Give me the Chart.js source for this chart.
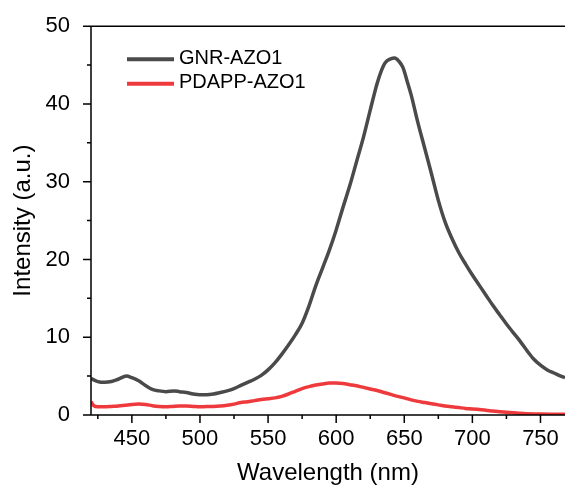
<!DOCTYPE html>
<html>
<head>
<meta charset="utf-8">
<script src="https://cdn.jsdelivr.net/npm/chart.js@4.4.1/dist/chart.umd.min.js"></script>
<style>
  html, body { margin: 0; padding: 0; background: #fff; }
  #wrap { width: 565px; height: 488px; }
</style>
</head>
<body>
<div id="wrap"><canvas id="chart" width="565" height="488"></canvas></div>
<script>
// Daten
const gnrWavelength = [420, 425, 430, 435, 440, 446, 450, 455, 460, 465, 470, 475, 481, 485, 490, 495, 500, 505, 510, 515, 520, 525, 530, 535, 540, 545, 550, 555, 560, 565, 570, 575, 580, 585, 590, 595, 600, 605, 610, 615, 620, 625, 630, 633, 636, 640, 643, 646, 649, 652, 655, 660, 665, 670, 675, 680, 685, 690, 695, 700, 705, 710, 715, 720, 725, 730, 735, 740, 745, 750, 755, 760, 765, 768];
const gnrIntensity = [4.7, 4.3, 4.2, 4.3, 4.6, 5.0, 4.8, 4.4, 3.8, 3.3, 3.1, 3.0, 3.1, 3.0, 2.9, 2.7, 2.6, 2.6, 2.7, 2.9, 3.1, 3.4, 3.8, 4.2, 4.6, 5.1, 5.8, 6.7, 7.8, 9.0, 10.3, 11.8, 14.0, 16.6, 18.9, 21.2, 23.8, 26.7, 29.5, 32.6, 35.7, 39.2, 42.6, 44.2, 45.3, 45.8, 45.9, 45.5, 44.7, 43.0, 41.2, 37.6, 34.3, 31.0, 27.6, 24.8, 22.7, 20.9, 19.4, 18.0, 16.7, 15.4, 14.1, 12.9, 11.7, 10.6, 9.5, 8.3, 7.2, 6.4, 5.8, 5.4, 5.0, 4.8];

const pdappWavelength = [420, 422, 425, 430, 435, 440, 445, 450, 455, 460, 465, 470, 475, 480, 485, 490, 495, 500, 505, 510, 515, 520, 525, 530, 535, 540, 545, 550, 555, 560, 565, 570, 575, 580, 585, 590, 595, 600, 605, 610, 615, 620, 625, 630, 635, 640, 645, 650, 655, 660, 665, 670, 675, 680, 685, 690, 695, 700, 705, 710, 715, 720, 725, 730, 735, 740, 745, 750, 760, 768];
const pdappIntensity = [1.7, 1.2, 1.05, 1.05, 1.1, 1.15, 1.25, 1.35, 1.4, 1.35, 1.2, 1.1, 1.05, 1.1, 1.15, 1.15, 1.1, 1.05, 1.1, 1.1, 1.15, 1.25, 1.4, 1.6, 1.7, 1.85, 2.0, 2.1, 2.2, 2.4, 2.7, 3.05, 3.4, 3.65, 3.85, 4.0, 4.1, 4.1, 4.05, 3.9, 3.75, 3.55, 3.35, 3.15, 2.9, 2.65, 2.4, 2.2, 1.95, 1.75, 1.6, 1.45, 1.3, 1.15, 1.05, 0.95, 0.85, 0.78, 0.7, 0.62, 0.5, 0.42, 0.35, 0.3, 0.22, 0.17, 0.14, 0.12, 0.1, 0.1];

const seriesLabels = ['GNR-AZO1', 'PDAPP-AZO1'];

// Achsen
const xMin = 420, xMax = 768;
const xTicks = [425, 450, 475, 500, 525, 550, 575, 600, 625, 650, 675, 700, 725, 750];
const xMajorStep = 50;
const yMin = 0, yMax = 50;
const yTicks = [0, 5, 10, 15, 20, 25, 30, 35, 40, 45, 50];
const yMajorStep = 10;

const FONT = "'Liberation Sans', Arial, sans-serif";

function toPoints(xs, ys) {
  return xs.map((x, i) => ({ x: x, y: ys[i] }));
}

// Rahmen, Tick-Striche und Legende selbst zeichnen
const framePlugin = {
  id: 'frame',
  afterDraw(chart) {
    const ctx = chart.ctx;
    const area = chart.chartArea;
    const xs = chart.scales.x;
    const ys = chart.scales.y;
    ctx.save();
    ctx.strokeStyle = '#000';
    ctx.lineWidth = 1.5;
    ctx.beginPath();
    ctx.moveTo(area.left, area.top);
    ctx.lineTo(area.right, area.top);
    ctx.moveTo(area.left, area.top);
    ctx.lineTo(area.left, area.bottom);
    ctx.lineTo(area.right, area.bottom);
    // Ticks nach außen
    xs.ticks.forEach(t => {
      const px = xs.getPixelForValue(t.value);
      const len = t.value % xMajorStep === 0 ? 8 : 4;
      ctx.moveTo(px, area.bottom);
      ctx.lineTo(px, area.bottom + len);
    });
    ys.ticks.forEach(t => {
      const py = ys.getPixelForValue(t.value);
      const len = t.value % yMajorStep === 0 ? 8 : 4;
      ctx.moveTo(area.left, py);
      ctx.lineTo(area.left - len, py);
    });
    ctx.stroke();

    // Legende
    ctx.font = '20px ' + FONT;
    ctx.textBaseline = 'middle';
    ctx.textAlign = 'left';
    chart.data.datasets.forEach((ds, i) => {
      const ly = area.top + 33 + i * 24.5;
      ctx.strokeStyle = ds.borderColor;
      ctx.lineWidth = 4;
      ctx.beginPath();
      ctx.moveTo(area.left + 36, ly);
      ctx.lineTo(area.left + 83, ly);
      ctx.stroke();
      ctx.fillStyle = '#000';
      ctx.fillText(ds.label, area.left + 88, ly - 1);
    });
    ctx.restore();
  }
};

const chart = new Chart(document.getElementById('chart'), {
  type: 'line',
  data: {
    datasets: [
      {
        label: seriesLabels[0],
        data: toPoints(gnrWavelength, gnrIntensity),
        borderColor: '#4a4a4a',
        borderWidth: 3.5,
        pointRadius: 0,
        cubicInterpolationMode: 'monotone',
        fill: false
      },
      {
        label: seriesLabels[1],
        data: toPoints(pdappWavelength, pdappIntensity),
        borderColor: '#ee3a3d',
        borderWidth: 3.5,
        pointRadius: 0,
        cubicInterpolationMode: 'monotone',
        fill: false
      }
    ]
  },
  options: {
    responsive: false,
    animation: false,
    layout: { padding: { left: 0, right: 0, top: 24, bottom: 0 } },
    plugins: {
      legend: { display: false },
      tooltip: { enabled: false }
    },
    scales: {
      x: {
        type: 'linear',
        min: xMin,
        max: xMax,
        afterBuildTicks: scale => { scale.ticks = xTicks.map(v => ({ value: v })); },
        afterFit: scale => {
          scale.height = 73;
          scale.paddingRight = 0;
          scale.paddingLeft = 0;
        },
        grid: { display: false },
        border: { display: false },
        ticks: {
          autoSkip: false,
          maxRotation: 0,
          padding: 3,
          color: '#000',
          font: { size: 22, family: FONT },
          callback: v => (v % xMajorStep === 0 ? String(v) : '')
        },
        title: {
          display: true,
          text: 'Wavelength (nm)',
          color: '#000',
          font: { size: 24, family: FONT },
          padding: 0
        }
      },
      y: {
        type: 'linear',
        min: yMin,
        max: yMax,
        afterBuildTicks: scale => { scale.ticks = yTicks.map(v => ({ value: v })); },
        afterFit: scale => { scale.width = 91; },
        grid: { display: false },
        border: { display: false },
        ticks: {
          autoSkip: false,
          padding: 13,
          color: '#000',
          font: { size: 22, family: FONT },
          callback: v => (v % yMajorStep === 0 ? String(v) : '')
        },
        title: {
          display: true,
          text: 'Intensity (a.u.)',
          color: '#000',
          font: { size: 24, family: FONT },
          padding: 9
        }
      }
    }
  },
  plugins: [framePlugin]
});
</script>
</body>
</html>
